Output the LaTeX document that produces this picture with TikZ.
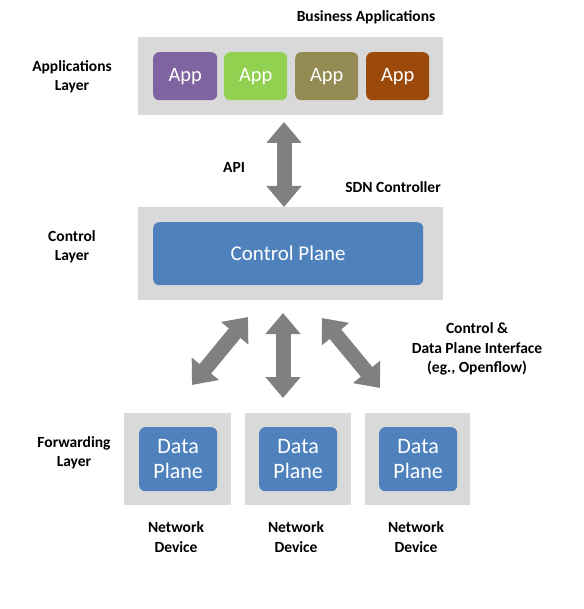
\documentclass[tikz,border=0pt]{standalone}
\usepackage{fontspec}
\setmainfont{Carlito}
\usetikzlibrary{arrows.meta}
\definecolor{boxgray}{HTML}{D9D9D9}
\definecolor{arrgray}{HTML}{808080}
\definecolor{planeblue}{HTML}{4F81BD}
\definecolor{appA}{HTML}{8064A2}
\definecolor{appB}{HTML}{92D050}
\definecolor{appC}{HTML}{948A54}
\definecolor{appD}{HTML}{9C4A0C}
\tikzset{
  layerbox/.style={fill=boxgray, draw=none, inner sep=0pt, anchor=north west},
  inbox/.style={rounded corners=6pt, draw=none, inner sep=0pt, text=white, align=center, anchor=north west},
  lbl/.style={font=\fontsize{15.5}{19.5}\selectfont\bfseries, align=center, inner sep=0pt},
  bigarrow/.style={draw=arrgray, line width=15pt,
    {Triangle[width=34pt,length=21pt]}-{Triangle[width=34pt,length=21pt]}}
}
\begin{document}
\begin{tikzpicture}[x=1pt,y=-1pt]
\useasboundingbox (0,0) rectangle (583,609);
% application layer
\node[layerbox, minimum width=305pt, minimum height=78pt] (appbox) at (138,37) {};
\node[inbox, fill=appA, minimum width=64pt, minimum height=48pt, font=\fontsize{20.5}{24}\selectfont] (app1) at (153,52) {App};
\node[inbox, fill=appB, minimum width=63pt, minimum height=48pt, font=\fontsize{20.5}{24}\selectfont] (app2) at (224,52) {App};
\node[inbox, fill=appC, minimum width=63pt, minimum height=48pt, font=\fontsize{20.5}{24}\selectfont] (app3) at (295,52) {App};
\node[inbox, fill=appD, minimum width=63pt, minimum height=48pt, font=\fontsize{20.5}{24}\selectfont] (app4) at (366,52) {App};
\node[lbl] (bizlbl) at (366,17) {Business Applications};
\node[lbl] (applyr) at (72,77) {Applications\\Layer};
% control layer
\node[layerbox, minimum width=305pt, minimum height=93pt] (ctrlbox) at (138,207) {};
\node[inbox, fill=planeblue, minimum width=270pt, minimum height=63pt, font=\fontsize{21}{24}\selectfont] (cplane) at (153,222) {Control Plane};
\node[lbl] (sdnlbl) at (393,187) {SDN Controller};
\node[lbl] (ctrllyr) at (72,247) {Control\\Layer};
\node[lbl] (apilbl) at (234,167) {API};
% API arrow
\coordinate (apitop) at (284,122);
\coordinate (apibot) at (284,207);
\draw[bigarrow] (apitop) -- (apibot);
% forwarding layer
\node[layerbox, minimum width=107pt, minimum height=92pt] (dev1) at (124,413) {};
\node[layerbox, minimum width=106pt, minimum height=92pt] (dev2) at (245,413) {};
\node[layerbox, minimum width=105pt, minimum height=92pt] (dev3) at (365,413) {};
\node[inbox, fill=planeblue, minimum width=78pt, minimum height=64pt, font=\fontsize{22}{25}\selectfont] (dp1) at (139,427) {Data\\Plane};
\node[inbox, fill=planeblue, minimum width=78pt, minimum height=64pt, font=\fontsize{22}{25}\selectfont] (dp2) at (259,427) {Data\\Plane};
\node[inbox, fill=planeblue, minimum width=78pt, minimum height=64pt, font=\fontsize{22}{25}\selectfont] (dp3) at (379,427) {Data\\Plane};
\node[lbl] (fwdlyr) at (74,453) {Forwarding\\Layer};
\node[lbl] (nd1) at (176,537) {Network\\Device};
\node[lbl] (nd2) at (296,537) {Network\\Device};
\node[lbl] (nd3) at (416,537) {Network\\Device};
\node[lbl] (ifacelbl) at (477,349) {Control \&\\Data Plane Interface\\(eg., Openflow)};
% interface arrows
\coordinate (l1) at (248,317);
\coordinate (l2) at (192,385);
\coordinate (m1) at (283,313);
\coordinate (m2) at (283,398);
\coordinate (r1) at (322,318);
\coordinate (r2) at (380,388);
\draw[bigarrow] (l1) -- (l2);
\draw[bigarrow] (m1) -- (m2);
\draw[bigarrow] (r1) -- (r2);
\end{tikzpicture}
\end{document}
